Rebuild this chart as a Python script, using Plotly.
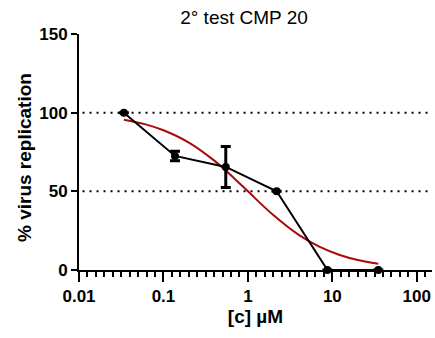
import plotly.graph_objects as go

# Data
conc = [0.034, 0.137, 0.547, 2.19, 8.75, 35.0]          # [c] µM
replication = [100, 72.5, 65.5, 50, 0, 0]               # % virus replication
err = [0, 3, 13, 0, 0, 0]                               # SD

# Fitted curve
fit_x = [0.034, 0.06, 0.1, 0.2, 0.4, 0.7, 1.0, 2.0, 4.0, 7.0, 12.0, 20.0, 35.0]
fit_y = [95.5, 92.7, 88.8, 81.0, 69.5, 57.9, 50.0, 34.9, 22.3, 14.8, 9.7, 6.3, 3.9]

ref_levels = [50, 100]
x_ticks = [0.01, 0.1, 1, 10, 100]
x_tick_text = ["0.01", "0.1", "1", "10", "100"]
y_ticks = [0, 50, 100, 150]

FONT = "Liberation Sans, Arial, Helvetica, sans-serif"

fig = go.Figure()
fig.add_trace(go.Scatter(
    x=fit_x, y=fit_y, mode="lines", line=dict(color="#A80A0A", width=2, shape="spline"),
    cliponaxis=False, showlegend=False))
fig.add_trace(go.Scatter(
    x=conc, y=replication, mode="lines+markers",
    line=dict(color="black", width=2),
    marker=dict(color="black", size=8),
    error_y=dict(type="data", array=err, color="black", thickness=3, width=5),
    cliponaxis=False, showlegend=False))

for lv in ref_levels:
    fig.add_shape(type="line", xref="paper", x0=0.01, x1=1, yref="y", y0=lv, y1=lv,
                  line=dict(color="black", width=2, dash="2px,5px"), layer="below")

minor_vals = [10 ** (-2 + i / 10) for i in range(0, 42) if i % 10 != 0]

fig.add_annotation(text="% virus replication", textangle=-90,
                   xref="paper", x=(24 - 79) / (435 - 79 - 3), xanchor="center",
                   yref="paper", y=(270 - 158) / (270 - 34), yanchor="middle",
                   showarrow=False,
                   font=dict(size=19, family=FONT, color="black", weight="bold"))

fig.update_layout(
    width=435, height=338,
    margin=dict(l=79, r=3, t=34, b=68),
    paper_bgcolor="white", plot_bgcolor="white",
    font=dict(family=FONT, color="black"),
    title=dict(text="2° test CMP 20", x=244 / 435, xanchor="center", y=1 - 17 / 338,
               yanchor="middle", font=dict(size=19, family=FONT, color="black")),
    xaxis=dict(
        type="log", range=[-2, 2.18],
        tickvals=x_ticks, ticktext=x_tick_text,
        showline=True, linecolor="black", linewidth=2,
        ticks="outside", ticklen=10, tickwidth=2, tickcolor="black",
        tickfont=dict(size=17, family=FONT, color="black", weight="bold"),
        showgrid=False, zeroline=False,
        minor=dict(tickmode="array", tickvals=minor_vals, ticks="outside", ticklen=5,
                   tickwidth=2, tickcolor="black", showgrid=False),
        title=dict(text="[c] µM", font=dict(size=19, family=FONT, color="black", weight="bold"),
                   standoff=3),
    ),
    yaxis=dict(
        range=[0, 150], tickvals=y_ticks,
        showline=True, linecolor="black", linewidth=2,
        ticks="outside", ticklen=6, tickwidth=2, tickcolor="black",
        tickfont=dict(size=17, family=FONT, color="black", weight="bold"),
        showgrid=False, zeroline=False,
    ),
)

fig.write_html("out.html")
